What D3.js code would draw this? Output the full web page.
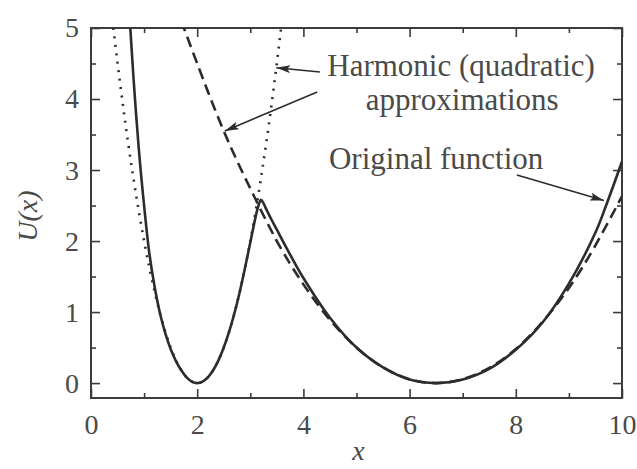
<!DOCTYPE html>
<html>
<head>
<meta charset="utf-8">
<script src="https://cdn.jsdelivr.net/npm/d3@7"></script>
<style>
  body { margin: 0; background: #ffffff; }
  svg text { font-family: "Liberation Serif", "DejaVu Serif", serif; fill: #4a4a4a; }
</style>
</head>
<body>
<svg id="chart" width="637" height="469"></svg>
<script>
// Double-well potential U(x) and its two harmonic (quadratic) approximations
const originalX = [0.70, 0.74, 0.80, 0.90, 1.00, 1.10, 1.20, 1.30, 1.40, 1.50, 1.60, 1.70, 1.80, 1.90,
  2.00, 2.10, 2.20, 2.30, 2.40, 2.50, 2.60, 2.70, 2.80, 2.90, 3.00, 3.10, 3.15, 3.20, 3.25, 3.30,
  3.40, 3.50, 3.75, 4.00, 4.50, 5.00, 5.50, 6.00, 6.50, 7.00, 7.50, 8.00, 8.50, 9.00, 9.50, 9.70, 10.00];
const originalU = [5.50, 5.00, 4.30, 3.30, 2.50, 1.82, 1.35, 0.98, 0.70, 0.48, 0.31, 0.18, 0.08, 0.02,
  0.00, 0.02, 0.08, 0.18, 0.32, 0.50, 0.72, 0.98, 1.28, 1.62, 1.98, 2.34, 2.49, 2.58, 2.53, 2.45,
  2.30, 2.16, 1.81, 1.48, 0.92, 0.50, 0.22, 0.05, 0.00, 0.05, 0.20, 0.47, 0.85, 1.40, 2.12, 2.50, 3.12];

// Narrow well around x = 2 (dotted)
const narrowX = [0.40, 0.60, 0.80, 1.00, 1.20, 1.40, 1.60, 1.80, 2.00, 2.20, 2.40, 2.60, 2.80, 3.00, 3.20, 3.40, 3.60];
const narrowU = [5.12, 3.92, 2.88, 2.00, 1.28, 0.72, 0.32, 0.08, 0.00, 0.08, 0.32, 0.72, 1.28, 2.00, 2.88, 3.92, 5.12];

// Broad well around x = 6.5 (dashed)
const broadX = [1.70, 2.00, 2.50, 3.00, 3.50, 4.00, 4.50, 5.00, 5.50, 6.00, 6.50, 7.00, 7.50, 8.00, 8.50, 9.00, 9.50, 10.00];
const broadU = [5.10, 4.50, 3.55, 2.74, 2.00, 1.39, 0.89, 0.50, 0.22, 0.055, 0.00, 0.055, 0.215, 0.48, 0.86, 1.34, 1.94, 2.63];

const xMajorTicks = [0, 2, 4, 6, 8, 10];
const xMinorTicks = [1, 3, 5, 7, 9];
const yMajorTicks = [0, 1, 2, 3, 4, 5];
const yMinorTicks = [0.5, 1.5, 2.5, 3.5, 4.5];

const xLabel = "x";
const yLabel = "U(x)";

// Annotation texts (anchor points in data units)
const noteTexts = ["Harmonic (quadratic)", "approximations", "Original function"];
const noteX = [6.97, 6.99, 6.50];
const noteU = [4.33, 3.85, 3.01];

// Arrows: start -> tip, in data units
const arrowFromX = [4.31, 4.26, 8.02];
const arrowFromU = [4.38, 4.10, 2.93];
const arrowToX = [3.49, 2.52, 9.66];
const arrowToU = [4.44, 3.55, 2.57];

const svg = d3.select("#chart");
const x = d3.scaleLinear().domain([0, 10]).range([91, 622]);
const y = d3.scaleLinear().domain([-0.21, 5]).range([398, 28]);

const ink = "#2c2c2c";
const axisInk = "#3c3c3c";

svg.append("defs").append("clipPath").attr("id", "plot-clip")
  .append("rect")
  .attr("x", x(0)).attr("y", y(5))
  .attr("width", x(10) - x(0)).attr("height", y(-0.21) - y(5));

svg.select("defs").append("marker")
  .attr("id", "arrow")
  .attr("viewBox", "0 0 14 8")
  .attr("refX", 14).attr("refY", 4)
  .attr("markerWidth", 14).attr("markerHeight", 8)
  .attr("markerUnits", "userSpaceOnUse")
  .attr("orient", "auto")
  .append("path")
  .attr("d", "M0,0 L14,4 L0,8 L3,4 Z")
  .attr("fill", ink);

// Axes: ticks point inward on all four sides
function styleAxis(g) {
  g.select(".domain").remove();
  g.selectAll("line").attr("stroke", axisInk).attr("stroke-width", 1.6);
  g.selectAll("text").attr("font-size", 28).attr("fill", "#4a4a4a")
    .attr("font-family", "Liberation Serif, DejaVu Serif, serif");
}

svg.append("g").attr("transform", `translate(0,${y(-0.21)})`)
  .call(d3.axisBottom(x).tickValues(xMajorTicks).tickSize(-9).tickPadding(16).tickFormat(d3.format("d")))
  .call(styleAxis);
svg.append("g").attr("transform", `translate(0,${y(-0.21)})`)
  .call(d3.axisBottom(x).tickValues(xMinorTicks).tickSize(-5).tickFormat(""))
  .call(styleAxis);
svg.append("g").attr("transform", `translate(0,${y(5)})`)
  .call(d3.axisTop(x).tickValues(xMajorTicks).tickSize(-9).tickFormat(""))
  .call(styleAxis);
svg.append("g").attr("transform", `translate(0,${y(5)})`)
  .call(d3.axisTop(x).tickValues(xMinorTicks).tickSize(-5).tickFormat(""))
  .call(styleAxis);

svg.append("g").attr("transform", `translate(${x(0)},0)`)
  .call(d3.axisLeft(y).tickValues(yMajorTicks).tickSize(-9).tickPadding(12).tickFormat(d3.format("d")))
  .call(styleAxis);
svg.append("g").attr("transform", `translate(${x(0)},0)`)
  .call(d3.axisLeft(y).tickValues(yMinorTicks).tickSize(-5).tickFormat(""))
  .call(styleAxis);
svg.append("g").attr("transform", `translate(${x(10)},0)`)
  .call(d3.axisRight(y).tickValues(yMajorTicks).tickSize(-9).tickFormat(""))
  .call(styleAxis);
svg.append("g").attr("transform", `translate(${x(10)},0)`)
  .call(d3.axisRight(y).tickValues(yMinorTicks).tickSize(-5).tickFormat(""))
  .call(styleAxis);

// Frame
svg.append("rect")
  .attr("x", x(0)).attr("y", y(5))
  .attr("width", x(10) - x(0)).attr("height", y(-0.21) - y(5))
  .attr("fill", "none").attr("stroke", axisInk).attr("stroke-width", 2);

// Curves
const plot = svg.append("g").attr("clip-path", "url(#plot-clip)");
const zip = (xs, us) => xs.map((v, i) => [v, us[i]]);

plot.append("path")
  .datum(zip(narrowX, narrowU))
  .attr("fill", "none").attr("stroke", ink)
  .attr("stroke-width", 2.6).attr("stroke-dasharray", "2,6.5")
  .attr("d", d3.line().x(d => x(d[0])).y(d => y(d[1])).curve(d3.curveNatural));

plot.append("path")
  .datum(zip(broadX, broadU))
  .attr("fill", "none").attr("stroke", ink)
  .attr("stroke-width", 2.6).attr("stroke-dasharray", "11,6")
  .attr("d", d3.line().x(d => x(d[0])).y(d => y(d[1])).curve(d3.curveNatural));

plot.append("path")
  .datum(zip(originalX, originalU))
  .attr("fill", "none").attr("stroke", ink)
  .attr("stroke-width", 2.6).attr("stroke-linejoin", "round")
  .attr("d", d3.line().x(d => x(d[0])).y(d => y(d[1])).curve(d3.curveCatmullRom.alpha(0.5)));

// Annotations
noteTexts.forEach((t, i) => {
  svg.append("text")
    .attr("x", x(noteX[i])).attr("y", y(noteU[i]))
    .attr("text-anchor", "middle")
    .attr("font-size", 31)
    .text(t);
  svg.append("line")
    .attr("x1", x(arrowFromX[i])).attr("y1", y(arrowFromU[i]))
    .attr("x2", x(arrowToX[i])).attr("y2", y(arrowToU[i]))
    .attr("stroke", ink).attr("stroke-width", 1.6)
    .attr("marker-end", "url(#arrow)");
});

// Axis titles
svg.append("text")
  .attr("x", x(5) + 2).attr("y", 460)
  .attr("text-anchor", "middle")
  .attr("font-size", 28).attr("font-style", "italic")
  .text(xLabel);

svg.append("text")
  .attr("transform", `translate(37,${y(2.35)}) rotate(-90)`)
  .attr("text-anchor", "middle")
  .attr("font-size", 28).attr("font-style", "italic")
  .text(yLabel);
</script>
</body>
</html>
